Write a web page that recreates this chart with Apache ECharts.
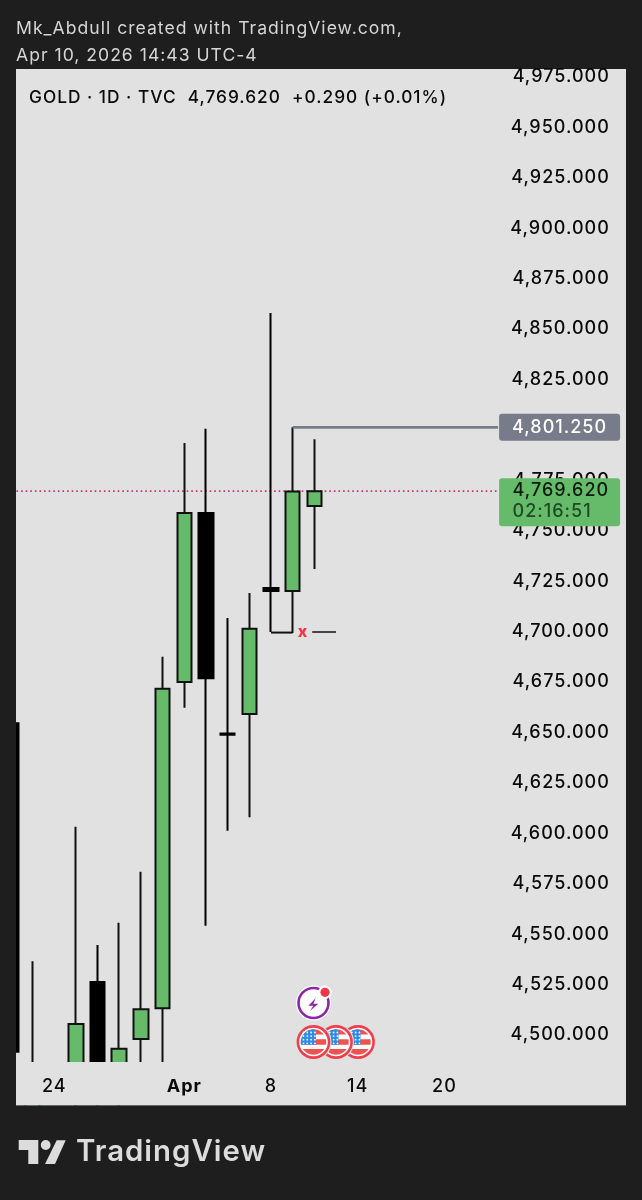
<!DOCTYPE html>
<html><head><meta charset="utf-8">
<style>html,body{margin:0;padding:0;background:#1e1e1e}#c{width:642px;height:1200px}</style>
<script src="https://cdn.jsdelivr.net/npm/echarts@6/dist/echarts.min.js"></script>
</head><body><div id="c"></div>
<script>
// Trading-day slots
const categories = ['Mar 20','Mar 23','Mar 24','Mar 25','Mar 26','Mar 27','Mar 30','Mar 31','Apr 1','Apr 2','Apr 6','Apr 7','Apr 8','Apr 9','Apr 10','Apr 13','Apr 14','Apr 15','Apr 16','Apr 17','Apr 20','Apr 21','Apr 22','Apr 23','Apr 24','Apr 27','Apr 28','Apr 29','Apr 30'];
// open, close, low, high
const ohlc = [
  [4654.6,4491.7,4470,4660],
  [4462,4478,4440,4536.6],
  ['-','-','-','-'],
  [4470,4505.4,4460,4603.2],
  [4526.2,4470,4455,4544.6],
  [4468,4493.2,4455,4555.6],
  [4498,4512.8,4470,4580.9],
  [4513.3,4671.6,4475,4687.5],
  [4675,4758.8,4662.2,4793.5],
  [4758.8,4676.9,4554.1,4800.5],
  [4649.4,4648.9,4601.2,4706.7],
  [4659.1,4701.4,4607.9,4719.1],
  [4721.6,4720.1,4699.8,4857.9],
  [4720.1,4769.4,4699.3,4801.25],
  [4762.2,4769.62,4731,4795.4]
];
const priceTicks = [4500,4525,4550,4575,4600,4625,4650,4675,4700,4725,4750,4775,4800,4825,4850,4875,4900,4925,4950,4975];
const dateTickIndex = [2,8,12,16,20];
const dateTickText = ['24','Apr','8','14','20'];
const lastPrice = 4769.62;
const pivotHigh = 4801.25;
const pivotLow = 4699.5;
const countdown = '02:16:51';

const FONT = 'Inter';
const fmt = v => v.toLocaleString('en-US',{minimumFractionDigits:3,maximumFractionDigits:3});
// the reference's UI font is wider-set than any installed face: add tracking to canvas text
const nativeFillText = CanvasRenderingContext2D.prototype.fillText;
CanvasRenderingContext2D.prototype.fillText = function(){ this.letterSpacing='1px'; return nativeFillText.apply(this,arguments); };
const chart = echarts.init(document.getElementById('c'),null,{renderer:'canvas',width:642,height:1200});

function text(x,y,t,size,fill,weight,family){return {type:'text',x,y,z:200,silent:true,style:{text:t,fontFamily:family||FONT,fontSize:size,fontWeight:weight||400,fill,verticalAlign:'middle'}};}
function discBand(cx,cy,r,dy1,dy2,x0,x1,fill,z){
  const L=[],R=[];
  for(let k=0;k<=10;k++){const dy=dy1+(dy2-dy1)*k/10;const w=Math.sqrt(Math.max(0,r*r-dy*dy));
    L.push([cx+Math.max(-w,x0),cy+dy]);R.push([cx+Math.min(w,x1),cy+dy]);}
  return {type:'polygon',z,silent:true,shape:{points:R.concat(L.reverse())},style:{fill}};
}
function flag(cx,cy,z){
  const red='#ef5350',blue='#2d8ceb',els=[];
  els.push({type:'circle',z,silent:true,shape:{cx,cy,r:18},style:{fill:'#e1e1e1'}});
  els.push({type:'circle',z,silent:true,shape:{cx,cy,r:15.6},style:{fill:'#ffffff',stroke:'#ee3f4c',lineWidth:2.6}});
  [[-12.7,-7.5],[-2.7,2.7],[7,12.7]].forEach(b=>els.push(discBand(cx,cy,12.7,b[0],b[1],-20,20,red,z)));
  els.push(discBand(cx,cy,12.7,-12.7,2.7,-20,2.5,blue,z));
  for(let r=0;r<4;r++)for(let c=0;c<4;c++){
    els.push({type:'circle',z,silent:true,shape:{cx:cx-10+c*3.8,cy:cy-9.5+r*3.6,r:0.9},style:{fill:'#fff'}});
  }
  return els;
}
const logoFill='#dcdcdc';
const graphics = [
  {type:'rect',z:-1,silent:true,shape:{x:16,y:69,width:610,height:1036.5},style:{fill:'#e1e1e1'}},
  {type:'rect',z:100,silent:true,shape:{x:0,y:60,width:16,height:1046},style:{fill:'#1e1e1e'}},
  {type:'rect',z:100,silent:true,shape:{x:16,y:1062,width:610,height:43.5},style:{fill:'#e1e1e1'}},
  {type:'rect',z:100,silent:true,shape:{x:0,y:1105.5,width:642,height:94.5},style:{fill:'#1e1e1e'}},
  text(16,29,'Mk_Abdull created with TradingView.com,',17.6,'#d6d6d6'),
  text(16,56,'Apr 10, 2026 14:43 UTC-4',17.6,'#d6d6d6'),
  text(29,97.5,'GOLD · 1D · TVC  4,769.620  +0.290 (+0.01%)',17.3,'#0a0a0a',500),
  {type:'polygon',z:200,silent:true,shape:{points:[[18.7,1140],[38.3,1140],[38.3,1164],[28.3,1164],[28.3,1150],[18.7,1150]]},style:{fill:logoFill}},
  {type:'circle',z:200,silent:true,shape:{cx:45.7,cy:1145,r:4.9},style:{fill:logoFill}},
  {type:'polygon',z:200,silent:true,shape:{points:[[56.7,1140.3],[65.7,1140.3],[55,1164],[45,1164]]},style:{fill:logoFill}},
  text(76,1152,'TradingView',29.4,logoFill,600),
  {type:'circle',z:150,silent:true,shape:{cx:313.5,cy:1003,r:17.5},style:{fill:'#fff'}},
  {type:'circle',z:151,silent:true,shape:{cx:313.5,cy:1003,r:15},style:{fill:'#fff',stroke:'#8e24aa',lineWidth:2.6}},
  {type:'polygon',z:152,silent:true,shape:{points:[[315.7,998.3],[308.3,1005.7],[313.3,1005.7],[310,1011],[318.3,1003.7],[313.3,1003.7]]},style:{fill:'#8e24aa'}},
  {type:'circle',z:153,silent:true,shape:{cx:325,cy:992.3,r:6.8},style:{fill:'#fff'}},
  {type:'circle',z:154,silent:true,shape:{cx:325,cy:992.3,r:4.6},style:{fill:'#f23645'}},
  ...flag(358,1042,150),...flag(336,1042,155),...flag(313.5,1042,160)
];

chart.setOption({
  animation:false,
  backgroundColor:'#1e1e1e',
  grid:{left:-0.55,right:13.25,top:69,bottom:138,containLabel:false,show:false},
  xAxis:[
    {type:'category',data:categories,boundaryGap:true,z:120,axisLine:{show:false},axisTick:{show:false},splitLine:{show:false},
     axisLabel:{interval:(i)=>dateTickIndex.includes(i),margin:16,color:'#0a0a0a',fontFamily:FONT,fontSize:18,fontWeight:500,hideOverlap:false,
       formatter:(v,i)=>{const k=dateTickIndex.indexOf(i);const t=k<0?'':dateTickText[k];return t==='Apr'?'{b|Apr}':t;},
       rich:{b:{fontFamily:FONT,fontSize:18,fontWeight:700,color:'#0a0a0a'}}}},
    {type:'value',min:-0.5,max:28.5,show:false}
  ],
  yAxis:{type:'value',position:'right',min:4486.6,max:4978.9,scale:true,axisLine:{show:false},axisTick:{show:false},splitLine:{show:false},
    axisLabel:{inside:true,margin:19,color:'#0a0a0a',fontFamily:FONT,fontSize:18,fontWeight:500,formatter:fmt,customValues:priceTicks,verticalAlign:'middle',showMinLabel:true,showMaxLabel:true,hideOverlap:false}},
  series:[
    {type:'line',xAxisIndex:1,data:[[0.26,lastPrice],[22.47,lastPrice]],symbol:'none',silent:true,z:1,lineStyle:{color:'#c2327f',width:1.6,type:[1.6,3]}},
    {type:'candlestick',data:ohlc,barWidth:15,z:3,clip:true,itemStyle:{color:'#66bb6a',color0:'#000',borderColor:'#111',borderColor0:'#000',borderWidth:2}},
    {type:'line',xAxisIndex:1,data:[[13,pivotHigh],[22.47,pivotHigh]],symbol:'none',silent:true,z:4,lineStyle:{color:'#787b8a',width:2.6}},
    {type:'line',xAxisIndex:1,data:[[12,pivotLow],[13,pivotLow]],symbol:'none',silent:true,z:4,lineStyle:{color:'#111',width:2}},
    {type:'line',xAxisIndex:1,data:[[13.9,pivotLow+0.3],[15,pivotLow+0.3]],symbol:'none',silent:true,z:4,lineStyle:{color:'#111',width:1.6}},
    {type:'scatter',xAxisIndex:1,data:[[13.47,pivotLow]],symbol:'circle',symbolSize:1,silent:true,z:5,itemStyle:{color:'transparent',opacity:1},
      label:{show:true,position:'inside',formatter:'x',color:'#f23645',fontFamily:FONT,fontWeight:800,fontSize:16}},
    {type:'scatter',xAxisIndex:1,data:[[25.31,pivotHigh]],symbol:'circle',symbolSize:1,silent:true,z:6,itemStyle:{color:'transparent',opacity:1},
      label:{show:true,position:'inside',formatter:p=>fmt(p.value[1]),color:'#fff',fontFamily:FONT,fontSize:18,fontWeight:500,backgroundColor:'#787b8a',borderRadius:3,width:121,height:27,lineHeight:27,align:'center',verticalAlign:'middle'}},
    {type:'scatter',xAxisIndex:1,data:[[25.31,lastPrice]],symbol:'circle',symbolSize:1,silent:true,z:6,itemStyle:{color:'transparent',opacity:1},
      label:{show:true,position:'inside',offset:[0,11],backgroundColor:'#66bb6a',borderRadius:3,align:'center',verticalAlign:'middle',width:121,height:48,lineHeight:23,
        formatter:p=>'{a|'+fmt(p.value[1])+'}\n{b|'+countdown+'}',rich:{a:{color:'#0a1a0c',fontFamily:FONT,fontSize:18,fontWeight:500,lineHeight:22,padding:[2,0,0,13.5],align:'left'},b:{color:'#1e4a24',fontFamily:FONT,fontSize:18,fontWeight:500,lineHeight:22,padding:[0,0,0,13.5],align:'left'}}}}
  ],
  graphic:{elements:graphics}
});
</script></body></html>
